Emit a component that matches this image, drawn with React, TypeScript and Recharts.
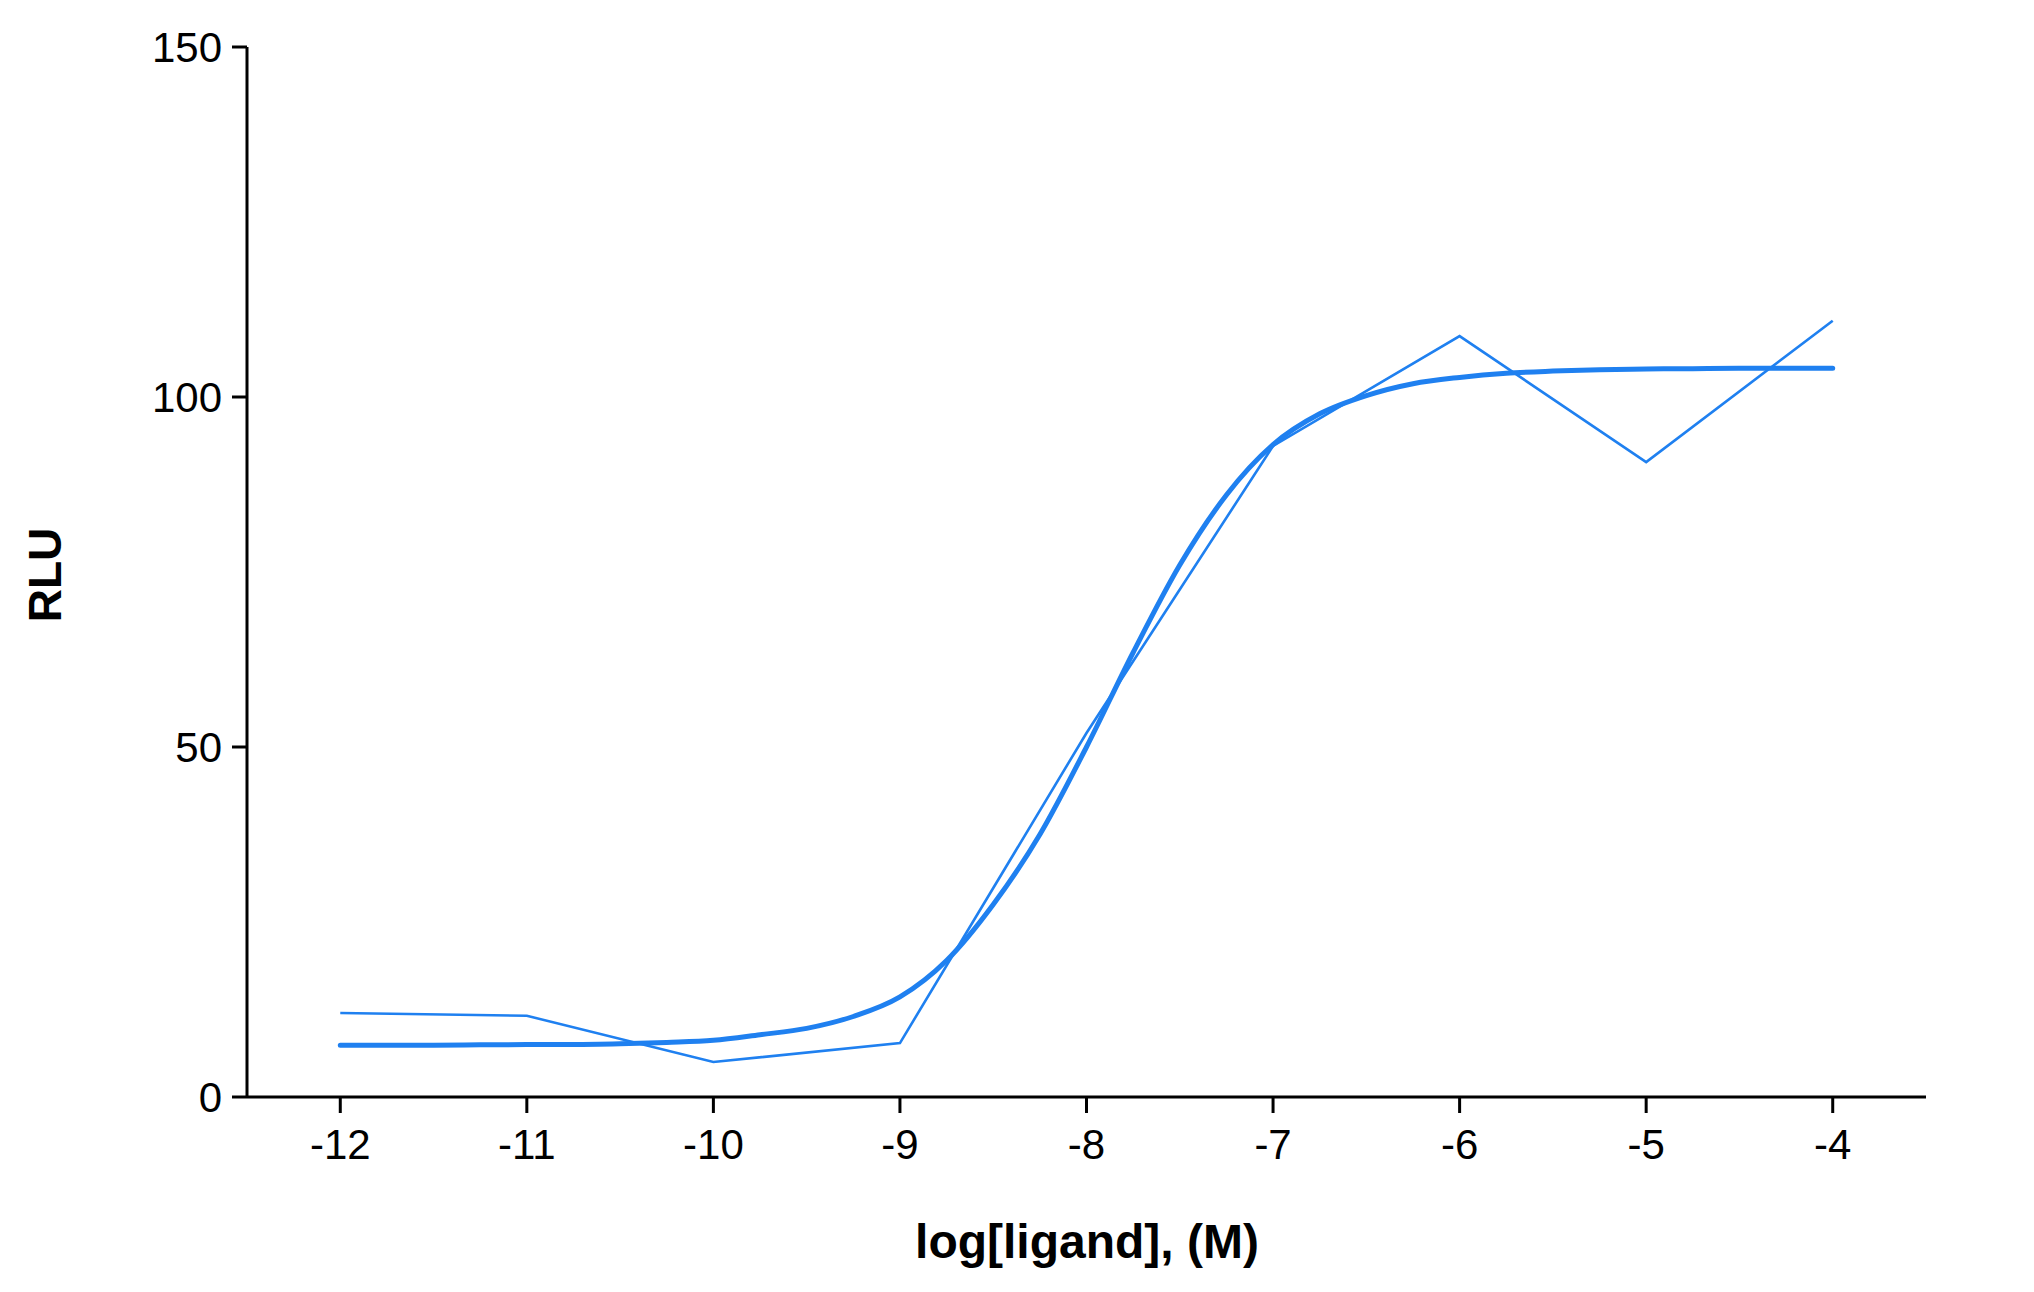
import React from 'react';
import { LineChart, Line, XAxis, YAxis } from 'recharts';

// measured points (log molar concentration vs RLU)
const logConc = [-12, -11, -10, -9, -8, -7, -6, -5, -4];
const rlu = [12.0, 11.6, 5.0, 7.7, 52.0, 93.0, 108.7, 90.7, 110.9];

// fitted curve, every 0.25 log units
const fitX = [
  -12, -11.75, -11.5, -11.25, -11, -10.75, -10.5, -10.25, -10, -9.75, -9.5, -9.25, -9,
  -8.75, -8.5, -8.25, -8, -7.75, -7.5, -7.25, -7, -6.75, -6.5, -6.25, -6,
  -5.75, -5.5, -5.25, -5, -4.75, -4.5, -4.25, -4,
];
const fitY = [
  7.4, 7.4, 7.4, 7.45, 7.5, 7.5, 7.6, 7.8, 8.1, 8.9, 9.8, 11.5, 14.3,
  19.5, 27.5, 37.5, 50.0, 63.5, 76.0, 86, 93.2, 97.6, 100.2, 101.9, 102.8,
  103.4, 103.7, 103.9, 104.0, 104.05, 104.1, 104.1, 104.1,
];

const xTicks = [-12, -11, -10, -9, -8, -7, -6, -5, -4];
const yTicks = [0, 50, 100, 150];

const BLUE = '#1f80f0';
const FONT = '"Liberation Sans", Arial, Helvetica, sans-serif';

const measured = logConc.map((x, i) => ({ x, y: rlu[i] }));
const fitted = fitX.map((x, i) => ({ x, y: fitY[i] }));

export default function App() {
  const axisLine = { stroke: '#000', strokeWidth: 3 };
  const tick = { fill: '#000', fontSize: 42, fontFamily: FONT };

  return (
    <div style={{ position: 'absolute', left: 0, top: 0, width: 2034, height: 1292, background: '#fff' }}>
      <LineChart
        width={2034}
        height={1292}
        margin={{ top: 47, right: 108, bottom: 0, left: 0 }}
      >
        <XAxis
          dataKey="x"
          type="number"
          domain={[-12.5, -3.5]}
          ticks={xTicks}
          height={195}
          axisLine={axisLine}
          tickLine={axisLine}
          tickSize={16}
          tickMargin={16}
          tick={tick}
        />
        <YAxis
          dataKey="y"
          type="number"
          domain={[0, 150]}
          ticks={yTicks}
          width={247}
          axisLine={axisLine}
          tickLine={axisLine}
          tickSize={15}
          tickMargin={10}
          tick={tick}
        />
        <Line
          data={measured}
          dataKey="y"
          type="linear"
          stroke={BLUE}
          strokeWidth={2.6}
          dot={false}
          isAnimationActive={false}
        />
        <Line
          data={fitted}
          dataKey="y"
          type="monotone"
          stroke={BLUE}
          strokeWidth={5}
          strokeLinecap="round"
          dot={false}
          isAnimationActive={false}
        />
      </LineChart>

      {/* axis titles */}
      <div
        style={{
          position: 'absolute',
          left: 1087,
          top: 1218,
          transform: 'translateX(-50%)',
          fontFamily: FONT,
          fontWeight: 'bold',
          fontSize: 48,
          lineHeight: 1,
          whiteSpace: 'nowrap',
          color: '#000',
        }}
      >
        log[ligand], (M)
      </div>
      <div
        style={{
          position: 'absolute',
          left: 45,
          top: 575,
          transform: 'translate(-50%, -50%) rotate(-90deg)',
          fontFamily: FONT,
          fontWeight: 'bold',
          fontSize: 46,
          lineHeight: 1,
          whiteSpace: 'nowrap',
          color: '#000',
        }}
      >
        RLU
      </div>
    </div>
  );
}
